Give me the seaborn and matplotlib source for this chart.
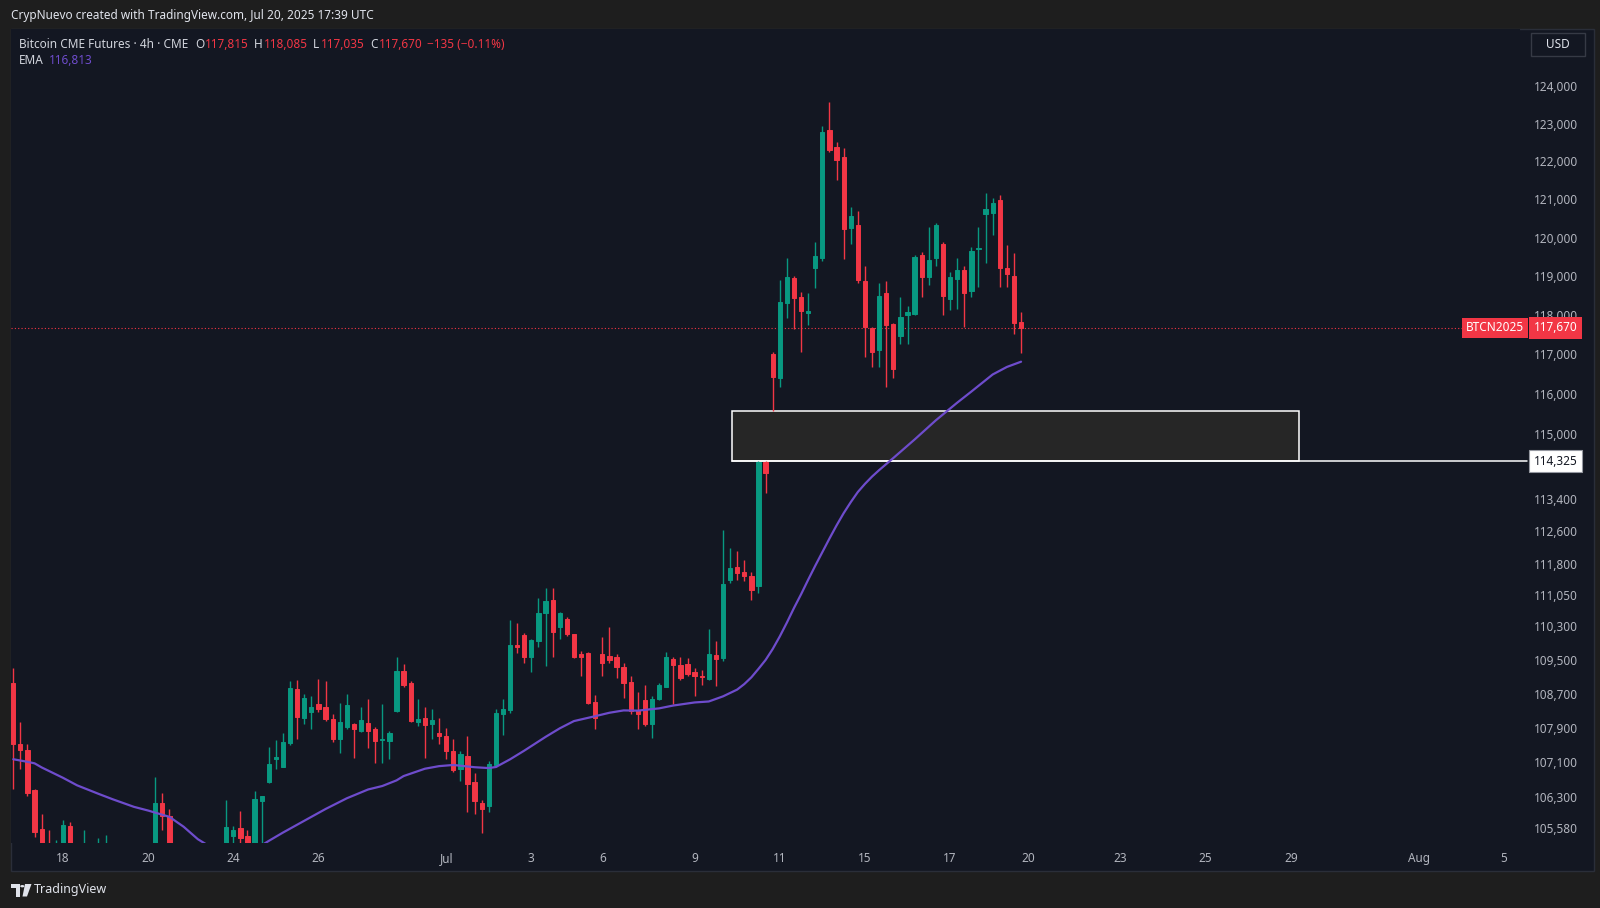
import numpy as np
import pandas as pd
import matplotlib
matplotlib.use('Agg')
import matplotlib.pyplot as plt
import seaborn as sns
from matplotlib import transforms
from matplotlib.patches import Rectangle, Polygon, Circle
from matplotlib.ticker import FixedLocator, NullLocator

# Bitcoin CME futures, 4h candles. Bar 0 is the first bar on the left edge (Jun 17)
opens = [108960, 107520, 107380, 106450, 105560, 105050, 104800, 104950, 105640, 104900,
         104700, 104950, 104500, 104800, 104900, 104400, 104600, 104200, 104000, 104300,
         104950, 106150, 105870, 104700, 101800, 102200, 102600, 103100, 103500, 104200,
         104900, 105400, 105580, 105400, 105000, 106200, 106650, 107180, 107000, 107540,
         108820, 108130, 108270, 108450, 108400, 108100, 107650, 107910, 108000, 107830,
         108020, 107870, 107610, 107590, 108300, 109250, 108950, 108040, 108140, 108000,
         107790, 107700, 107360, 106940, 107250, 106640, 106160, 106080, 107030, 108220,
         108320, 109860, 110090, 109570, 109960, 110630, 110940, 110290, 110470, 110120,
         109640, 109660, 108510, 109650, 109600, 109560, 109330, 108980, 108320, 108550,
         108000, 108570, 108870, 109520, 109390, 109400, 109210, 109130, 109060, 109620,
         109550, 111420, 111730, 111620, 111500, 111260, 114300, 117020, 116390, 118320,
         118950, 118470, 118050, 119220, 119460, 122830, 122370, 122120, 120240, 120330,
         118880, 117660, 117120, 118560, 117770, 117470, 118000, 118020, 119550, 118970,
         119460, 119820, 118400, 118920, 119170, 118620, 119690, 120600, 120640, 120990,
         119210, 119000, 117815]
highs = [109310, 108040, 107520, 106480, 105910, 105540, 105300, 105770, 105730, 105150,
         105540, 105200, 105360, 105420, 105100, 104900, 105000, 104700, 104600, 105100,
         106750, 106380, 106010, 105000, 102500, 102900, 103300, 103800, 104500, 105100,
         106220, 105630, 105970, 105550, 106430, 106330, 107460, 107610, 107790, 109000,
         109020, 108690, 108650, 109060, 109000, 108220, 108480, 108690, 108010, 108400,
         108590, 107920, 108450, 107830, 109570, 109410, 109000, 108570, 108380, 108340,
         108140, 107900, 107650, 107360, 107700, 106860, 106230, 107120, 108350, 108570,
         110450, 110370, 110150, 110000, 110980, 111220, 111220, 110650, 110530, 110130,
         109720, 109690, 108670, 110050, 110290, 109650, 109430, 109120, 108740, 108900,
         108650, 108960, 109680, 109580, 109580, 109540, 109310, 109270, 110250, 109940,
         112620, 112200, 112110, 111900, 111620, 114325, 114325, 117050, 118900, 119460,
         119000, 118600, 118570, 119890, 122940, 123580, 122520, 122340, 120800, 120690,
         119250, 117700, 118830, 118880, 117800, 118470, 118230, 119550, 119630, 120280,
         120370, 119890, 119110, 119460, 119250, 119760, 120270, 121160, 121040, 121110,
         119800, 119590, 118085]
lows = [106470, 106940, 106320, 105380, 104850, 104600, 104500, 104850, 104700, 104500,
        104500, 104300, 104300, 104600, 104200, 103900, 104000, 103700, 103600, 104100,
        104900, 105550, 104500, 103400, 101200, 101600, 102200, 102800, 103300, 104000,
        104800, 105250, 105200, 104800, 104900, 105200, 106610, 106940, 106980, 107500,
        107630, 107980, 107880, 108280, 108060, 107560, 107310, 107880, 107190, 107800,
        107430, 107090, 107090, 107170, 108280, 108850, 108040, 107940, 107210, 107650,
        107520, 107170, 106880, 106670, 105940, 105900, 105480, 105950, 106990, 107730,
        108240, 109660, 109430, 109210, 109800, 109350, 109580, 110010, 110070, 109550,
        109130, 108470, 107880, 109120, 109440, 109080, 108610, 108220, 107870, 107940,
        107670, 108550, 108850, 108450, 109030, 109110, 108650, 108900, 109030, 108890,
        109480, 111340, 111420, 111380, 110940, 111100, 113530, 115580, 116180, 117920,
        117650, 117060, 117740, 118700, 119400, 122250, 121500, 119450, 119820, 118830,
        116940, 116670, 116680, 116180, 116390, 117260, 117270, 117990, 118460, 118770,
        119250, 118000, 118130, 118150, 117700, 118470, 118730, 119340, 120060, 118730,
        118730, 117510, 117035]
closes = [107520, 107380, 106380, 105500, 105050, 104800, 104950, 105650, 104900, 104700,
          104950, 104500, 104800, 104900, 104400, 104600, 104200, 104000, 104300, 104950,
          106150, 105870, 104700, 103700, 102200, 102600, 103100, 103500, 104200, 104900,
          105610, 105550, 105350, 105000, 106240, 106320, 107050, 107220, 107560, 108830,
          108160, 108600, 108400, 108350, 108120, 107650, 108040, 108430, 107880, 108080,
          107830, 107590, 107650, 107770, 109230, 108920, 108060, 108120, 107970, 108080,
          107700, 107360, 106910, 107290, 106590, 106200, 106020, 107050, 108240, 108350,
          109860, 109800, 109580, 109980, 110620, 110900, 110170, 110620, 110120, 109560,
          109580, 108490, 108140, 109440, 109490, 109340, 108960, 108300, 108220, 108000,
          108590, 108900, 109580, 109370, 109080, 109160, 109120, 109100, 109640, 109520,
          111320, 111700, 111580, 111500, 111180, 114300, 114020, 116420, 118340, 118990,
          118430, 118110, 118100, 119520, 122780, 122300, 122020, 120210, 120570, 118900,
          117690, 117060, 118490, 117740, 116640, 117950, 118080, 119500, 118990, 119410,
          120330, 118490, 118970, 119160, 118560, 119660, 119720, 120750, 120900, 119210,
          119060, 117805, 117670]

ema_bars = [0, 2, 3, 4, 7, 9, 12, 14, 17, 19, 22, 24, 26, 28, 30, 32, 34, 36, 38, 41,
            44, 47, 50, 52, 54, 55, 58, 60, 62, 65, 67, 68, 70, 72, 75, 77, 79, 82, 84, 86,
            88, 91, 93, 96, 98, 100, 101, 102, 103, 104, 105, 106, 107, 108, 109, 110, 111,
            112, 113, 114, 115, 116, 117, 118, 119, 120, 121, 122, 123, 124, 127, 130,
            133, 135, 138, 140, 142]
ema_vals = [107170, 107110, 107075, 106980, 106740, 106565, 106370, 106245, 106070, 105985,
            105840, 105614, 105330, 105130, 105010, 105000, 105090, 105290, 105480, 105750,
            106020, 106267, 106470, 106550, 106680, 106780, 106950, 107010, 107037, 106985,
            106965, 106990, 107168, 107370, 107690, 107890, 108060, 108175, 108255, 108310,
            108305, 108358, 108425, 108497, 108520, 108640, 108720, 108800, 108930, 109090,
            109290, 109500, 109760, 110060, 110390, 110740, 111070, 111420, 111760, 112090,
            112420, 112740, 113040, 113310, 113560, 113760, 113940, 114100, 114250, 114400,
            114860, 115340, 115780, 116060, 116490, 116680, 116813]

date_bars = [7, 19, 31, 43, 61, 73, 83, 96, 108, 120, 132, 143, 156, 168, 180, 198, 210]
date_labels = ['18', '20', '24', '26', 'Jul', '3', '6', '9', '11', '15', '17', '20',
               '23', '25', '29', 'Aug', '5']

price_ticks = [124000, 123000, 122000, 121000, 120000, 119000, 118000, 117000, 116000,
               115000, 113400, 112600, 111800, 111050, 110300, 109500, 108700, 107900,
               107100, 106300, 105580]

# drawn CME gap box and its level
gap_low, gap_high = 114325, 115580
gap_start, gap_end = 101.2, 181.2

BG_OUT = '#1e1e1e'
BG = '#131722'
TXT = '#b2b5be'
LEG = '#d1d4dc'
UP = '#089981'
DOWN = '#f23645'
EMA_C = '#6e4ccc'

W, H = 1600, 908


def fx(px):
    return px / W


def fy(py):
    return 1 - py / H


sns.set_theme(style='dark', rc={'axes.facecolor': BG, 'figure.facecolor': BG_OUT,
                                'axes.grid': False})
plt.rcParams['font.family'] = ['Noto Sans', 'DejaVu Sans']

fig = plt.figure(figsize=(W / 100, H / 100), dpi=100)
fig.patch.set_facecolor(BG_OUT)

# chart panel (plot + scales), kept underneath the axes
fig.patches.append(Rectangle((fx(11), fy(871)), fx(1594) - fx(11), fy(29) - fy(871),
                             transform=fig.transFigure, fc=BG, ec='#2a2e39', lw=1, zorder=-5))

ax = fig.add_axes([fx(11), fy(843), fx(1520) - fx(11), fy(29) - fy(843)])
ax.set_zorder(2)
ax.set_facecolor(BG)

df = pd.DataFrame({'bar': np.arange(len(opens)), 'open': opens, 'high': highs,
                   'low': lows, 'close': closes})
df['up'] = df['close'] >= df['open']
colors = np.where(df['up'], UP, DOWN)

# gap box + level ray
ax.add_patch(Rectangle((gap_start, gap_low), gap_end - gap_start, gap_high - gap_low,
                       fc='#262626', ec='white', lw=1.1, zorder=1))
ax.plot([gap_start, 213.3], [gap_low, gap_low], color='white', lw=1.1, clip_on=False, zorder=1)

# candles
ax.vlines(df['bar'], df['low'], df['high'], colors=colors, lw=1, zorder=3)
ax.bar(df['bar'], (df['close'] - df['open']).abs(), bottom=df[['open', 'close']].min(axis=1),
       width=0.6, color=colors, edgecolor=colors, lw=0.7, zorder=4)

# EMA
sns.lineplot(x=ema_bars, y=ema_vals, ax=ax, color=EMA_C, lw=1.6, legend=False, zorder=5,
             sort=True)

last_price = closes[-1]
ax.axhline(last_price, xmax=0.9616, color=DOWN, lw=0.8, ls=(0, (1, 2)), zorder=2)

ax.set_yscale('log')
ax.set_ylim(105242, 125547)
ax.set_xlim(-0.32, 212.3)

ax.yaxis.set_major_locator(FixedLocator(price_ticks))
ax.yaxis.set_minor_locator(NullLocator())
ax.set_yticklabels([f'{v:,}' for v in price_ticks])
ax.yaxis.tick_right()
ax.tick_params(axis='y', length=0, pad=10, labelsize=8.5, labelcolor=TXT)

ax.set_xticks(date_bars)
ax.set_xticklabels(date_labels)
ax.tick_params(axis='x', length=0, pad=6.5, labelsize=8.5, labelcolor=TXT)
for lbl in ax.get_xticklabels():
    if lbl.get_text() in ('Jul', 'Aug'):
        lbl.set_fontweight('bold')

for s in ax.spines.values():
    s.set_visible(False)
ax.set_xlabel('')
ax.set_ylabel('')

# price labels on the scale
blend = transforms.blended_transform_factory(ax.transAxes, ax.transData)
ax.text((1466 - 11) / 1509, last_price, 'BTCN2025', transform=blend, ha='left', va='center',
        color='white', fontsize=8.5, clip_on=False, zorder=6,
        bbox=dict(boxstyle='square,pad=0.3', fc=DOWN, ec='none'))
ax.text((1534 - 11) / 1509, last_price, f'{last_price:,}', transform=blend, ha='left',
        va='center', color='white', fontsize=8.5, clip_on=False, zorder=6,
        bbox=dict(boxstyle='square,pad=0.4', fc=DOWN, ec='none'))
ax.text((1534 - 11) / 1509, gap_low, f'{gap_low:,}', transform=blend, ha='left',
        va='center', color='#131722', fontsize=8.5, clip_on=False, zorder=6,
        bbox=dict(boxstyle='square,pad=0.4', fc='white', ec='#9598a1', lw=0.8))

# header
fig.text(fx(11), fy(15.7), 'CrypNuevo created with TradingView.com, Jul 20, 2025 17:39 UTC',
         color='#e0e3eb', fontsize=8.5, va='center', ha='left')

# legend line
yl = fy(44)
fig.text(fx(19), yl, 'Bitcoin CME Futures · 4h · CME', color=LEG, fontsize=8.5, va='center')
chg = closes[-1] - closes[-2]
pct = chg / closes[-2] * 100
parts = [(195, 'O', LEG), (205, f'{opens[-1]:,}', DOWN), (254, 'H', LEG),
         (264, f'{highs[-1]:,}', DOWN), (313, 'L', LEG), (321, f'{lows[-1]:,}', DOWN),
         (370, 'C', LEG), (379, f'{closes[-1]:,}', DOWN),
         (427, f'{chg:+,}'.replace('-', '\u2212') + f' ({pct:+.2f}%)'.replace('-', '\u2212'), DOWN)]
for px, s, c in parts:
    fig.text(fx(px), yl, s, color=c, fontsize=8.5, va='center')
fig.text(fx(19), fy(61), 'EMA', color=LEG, fontsize=8.5, va='center')
fig.text(fx(49), fy(61), f'{ema_vals[-1]:,}', color=EMA_C, fontsize=8.5, va='center')

# USD box
fig.patches.append(Rectangle((fx(1531), fy(56)), fx(1585) - fx(1531), fy(33) - fy(56),
                             transform=fig.transFigure, fc=BG, ec='#363a45', lw=1, zorder=2))
fig.text(fx(1558), fy(44.5), 'USD', color='#e0e3eb', fontsize=8.5, ha='center', va='center',
         zorder=3)

# footer logo + name
logo_a = [(11, 884), (19.5, 884), (19.5, 896.5), (15.5, 896.5), (15.5, 888), (11, 888)]
logo_b = [(25, 884), (31.5, 884), (27, 896.5), (22.5, 896.5)]
fig.patches.append(Polygon([(fx(x), fy(y)) for x, y in logo_a], closed=True,
                           transform=fig.transFigure, fc='#e0e3eb', ec='none'))
fig.patches.append(Polygon([(fx(x), fy(y)) for x, y in logo_b], closed=True,
                           transform=fig.transFigure, fc='#e0e3eb', ec='none'))
fig.patches.append(Circle((fx(22.3), fy(886.2)), 2.1 / W, transform=fig.transFigure,
                          fc='#e0e3eb', ec='none'))
fig.text(fx(34), fy(890), 'TradingView', color='#e0e3eb', fontsize=9, va='center',
         fontweight='semibold')

fig.savefig('out.png', dpi=100, facecolor=BG_OUT)
